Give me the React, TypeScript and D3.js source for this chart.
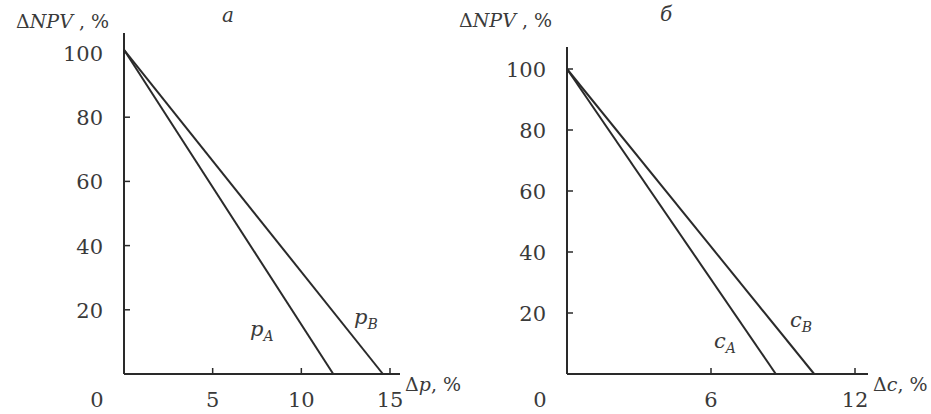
import * as d3 from 'd3';

// левая панель (а): изменение цены
const yTicks = [20, 40, 60, 80, 100];
const pTicks = [5, 10, 15];
const pA = [{ x: 0, y: 101 }, { x: 11.8, y: 0 }];
const pB = [{ x: 0, y: 101 }, { x: 14.6, y: 0 }];

// правая панель (б): изменение затрат
const cTicks = [6, 12];
const cA = [{ x: 0, y: 100 }, { x: 8.7, y: 0 }];
const cB = [{ x: 0, y: 100 }, { x: 10.3, y: 0 }];

const ink = '#2a2a2a';
const txt = '#3a3a3a';
const font = 'DejaVu Serif, Liberation Serif, serif';

function Panel({ x0, x1, xMax, xEnd, y0, y100, yTop, xTicks, seriesA, seriesB, letter, letterX, titleY, xVar, posA, posB, tick100 }) {
  const x = d3.scaleLinear().domain([0, xMax]).range([x0, x1]);
  const y = d3.scaleLinear().domain([0, 100]).range([y0, y100]);
  const line = d3.line<any>().x(d => x(d.x)).y(d => y(d.y));
  return (
    <g style={{ fontFamily: font }} fill={txt}>
      {/* оси */}
      <line x1={x(0)} x2={x(0)} y1={yTop} y2={y(0)} stroke={ink} strokeWidth={2} />
      <line x1={x(0)} x2={xEnd} y1={y(0)} y2={y(0)} stroke={ink} strokeWidth={2} />
      {yTicks.filter(t => tick100 || t < 100).map(t => (
        <line key={'yt' + t} x1={x(0)} x2={x(0) + 6} y1={y(t)} y2={y(t)} stroke={ink} strokeWidth={1.5} />
      ))}
      {yTicks.map(t => (
        <text key={'yl' + t} x={x(0) - 21} y={y(t) + 8} textAnchor="end" fontSize={21}>{t}</text>
      ))}
      {xTicks.map(t => (
        <line key={'xt' + t} x1={x(t)} x2={x(t)} y1={y(0)} y2={y(0) - 6} stroke={ink} strokeWidth={1.5} />
      ))}
      {xTicks.map(t => (
        <text key={'xl' + t} x={x(t)} y={407} textAnchor="middle" fontSize={21}>{t}</text>
      ))}
      <text x={x(0) - 27} y={407} textAnchor="middle" fontSize={21}>0</text>
      {/* подписи осей */}
      <text x={x(0) - 108} y={titleY} fontSize={19}>
        <tspan>Δ</tspan><tspan fontStyle="italic">NPV</tspan><tspan> , %</tspan>
      </text>
      <text x={xEnd + 5} y={y(0) + 17} fontSize={19}>
        <tspan>Δ</tspan><tspan fontStyle="italic">{xVar}</tspan><tspan>, %</tspan>
      </text>
      <text x={letterX} y={titleY - 6} fontSize={20} fontStyle="italic">{letter}</text>
      {/* линии */}
      <path d={line(seriesA) || ''} fill="none" stroke={ink} strokeWidth={2} />
      <path d={line(seriesB) || ''} fill="none" stroke={ink} strokeWidth={2} />
      <text x={posA[0]} y={posA[1]} fontSize={21} fontStyle="italic">
        {xVar}<tspan fontSize={14} dy={5}>A</tspan>
      </text>
      <text x={posB[0]} y={posB[1]} fontSize={21} fontStyle="italic">
        {xVar}<tspan fontSize={14} dy={5}>B</tspan>
      </text>
    </g>
  );
}

export default function App() {
  return (
    <svg width={931} height={414} style={{ position: 'absolute', left: 0, top: 0, background: '#fff' }}>
      <Panel x0={124} x1={390} xMax={15} xEnd={400} y0={374} y100={53} yTop={33}
        xTicks={pTicks} seriesA={pA} seriesB={pB} letter="a" letterX={222} titleY={28} xVar="p"
        posA={[250, 336]} posB={[354, 324]} tick100={false} />
      <Panel x0={567} x1={855} xMax={12} xEnd={868} y0={374} y100={69} yTop={47}
        xTicks={cTicks} seriesA={cA} seriesB={cB} letter="б" letterX={660} titleY={27} xVar="c"
        posA={[714, 348]} posB={[790, 327]} tick100={true} />
    </svg>
  );
}
